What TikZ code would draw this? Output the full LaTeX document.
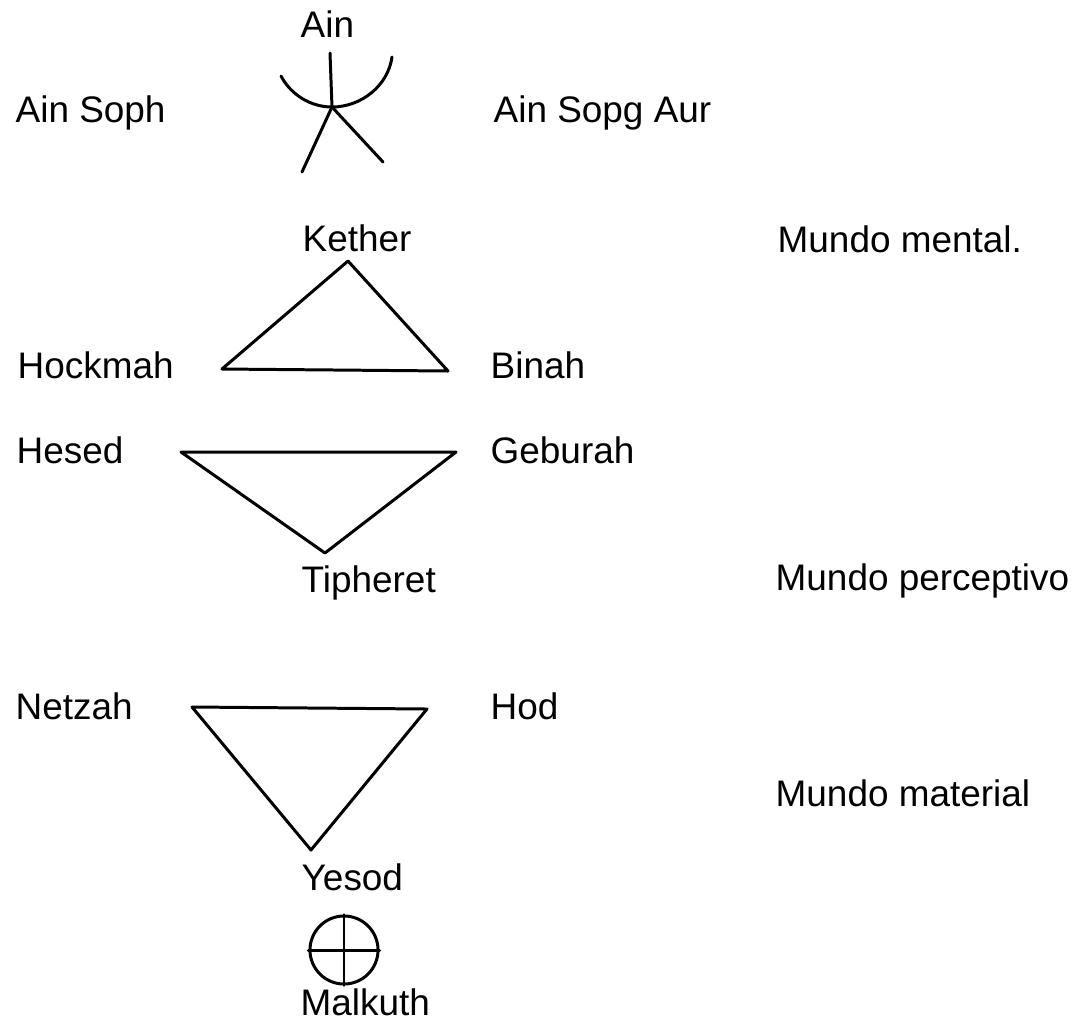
\documentclass[tikz,border=0pt]{standalone}
\usepackage{fontspec}
\setmainfont{Liberation Sans}
\usetikzlibrary{positioning}

\begin{document}
\begin{tikzpicture}[x=0.01cm, y=-0.01cm,
  txt/.style={anchor=base west, inner sep=0pt, font=\fontsize{10.5}{12}\selectfont},
  stroke/.style={line width=0.85pt, line join=round, line cap=round}
]
  \useasboundingbox (0,0) rectangle (1090,1020);

  % names
  \node[txt] (ain) at (300,37) {Ain};
  \node[txt] (ainsoph) at (15,122) {Ain Soph};
  \node[txt] (ainsopgaur) at (493,122) {Ain Sopg Aur};
  \node[txt] (kether) at (302,251) {Kether};
  \node[txt] (mental) at (777,252) {Mundo mental.};
  \node[txt] (hockmah) at (17,378) {Hockmah};
  \node[txt] (binah) at (490,378) {Binah};
  \node[txt] (hesed) at (16,463) {Hesed};
  \node[txt] (geburah) at (490,463) {Geburah};
  \node[txt] (tipheret) at (301,592) {Tipheret};
  \node[txt] (perceptivo) at (775,590) {Mundo perceptivo};
  \node[txt] (netzah) at (15,719) {Netzah};
  \node[txt] (hod) at (490,719) {Hod};
  \node[txt] (material) at (775,806) {Mundo material};
  \node[txt] (yesod) at (301,890) {Yesod};
  \node[txt] (malkuth) at (300,1015) {Malkuth};

  % sign of Ain
  \coordinate (c0) at (332,107);
  \coordinate (top) at (330,53);
  \coordinate (al) at (281,76);
  \coordinate (ar) at (392,57);
  \coordinate (ll) at (302,172);
  \coordinate (lr) at (383,162);
  \draw[stroke] (top) -- (c0);
  \draw[stroke] (al) .. controls (291,95) and (311,107) .. (c0)
                     .. controls (361,107) and (388,86) .. (ar);
  \draw[stroke] (c0) -- (ll);
  \draw[stroke] (c0) -- (lr);

  % triangles
  \coordinate (t1a) at (348,261);
  \coordinate (t1b) at (222,369);
  \coordinate (t1c) at (448,371);
  \draw[stroke] (t1a) -- (t1b) -- (t1c) -- cycle;

  \coordinate (t2a) at (181,452);
  \coordinate (t2b) at (456,452);
  \coordinate (t2c) at (325,553);
  \draw[stroke] (t2a) -- (t2b) -- (t2c) -- cycle;

  \coordinate (t3a) at (192,707);
  \coordinate (t3b) at (427,709);
  \coordinate (t3c) at (311,850);
  \draw[stroke] (t3a) -- (t3b) -- (t3c) -- cycle;

  % Malkuth sign
  \node[circle, draw, stroke, minimum size=0.68cm, inner sep=0pt] (earth) at (344,950) {};
  \draw[stroke] (earth.north) -- (earth.south);
  \draw[stroke] (earth.west) -- (earth.east);
\end{tikzpicture}
\end{document}
